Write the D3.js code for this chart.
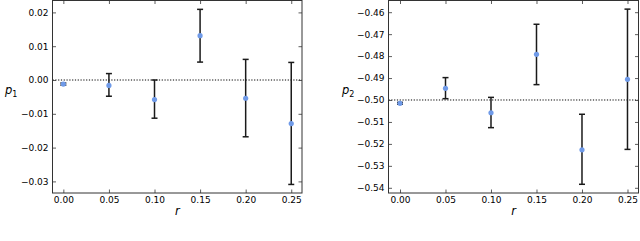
<!DOCTYPE html>
<html>
<head>
<meta charset="utf-8">
<script src="https://cdn.jsdelivr.net/npm/d3@7"></script>
<style>
	body { margin: 0; background: #fff; }
	svg { display: block; font-family: "DejaVu Sans", sans-serif; }
</style>
</head>
<body>
<svg id="chart" width="640" height="241"></svg>
<script>

// shared x values
let rValues = [0.00, 0.05, 0.10, 0.15, 0.20, 0.25];
let rTicks = [0.00, 0.05, 0.10, 0.15, 0.20, 0.25];

// panel (a): p1
let p1Mean = [-0.0012, -0.0016, -0.0058, 0.0131, -0.0054, -0.0129];
let p1Low = [-0.0015, -0.0048, -0.0113, 0.0053, -0.0168, -0.0309];
let p1High = [-0.0009, 0.0019, 0.0000, 0.0209, 0.0061, 0.0052];
let p1Ticks = [0.02, 0.01, 0.00, -0.01, -0.02, -0.03];
let p1Ref = 0.0;

// panel (b): p2
let p2Mean = [-0.5015, -0.4947, -0.5058, -0.4792, -0.5227, -0.4906];
let p2Low = [-0.5019, -0.4994, -0.5126, -0.4930, -0.5384, -0.5225];
let p2High = [-0.5011, -0.4898, -0.4988, -0.4655, -0.5065, -0.4586];
let p2Ticks = [-0.46, -0.47, -0.48, -0.49, -0.50, -0.51, -0.52, -0.53, -0.54];
let p2Ref = -0.5;

let svg = d3.select("#chart");

function panel(opts) {
	let x = d3.scaleLinear().domain(opts.xdom).range([opts.left, opts.right]);
	let y = d3.scaleLinear().domain(opts.ydom).range([opts.bottom, opts.top]);
	let g = svg.append("g");

	// reference line
	g.append("line")
		.attr("x1", opts.left).attr("x2", opts.right)
		.attr("y1", y(opts.ref)).attr("y2", y(opts.ref))
		.attr("stroke", "#000").attr("stroke-width", 1)
		.attr("stroke-dasharray", "1.2,1.6");

	// error bars
	let cap = 3;
	let data = rValues.map((r, i) => ({r: r, m: opts.mean[i], lo: opts.low[i], hi: opts.high[i]}));
	let eb = g.selectAll(".eb").data(data).enter().append("g").attr("class", "eb")
		.attr("stroke", "#1a1a1a").attr("stroke-width", 1.5);
	eb.append("line").attr("x1", d => x(d.r)).attr("x2", d => x(d.r))
		.attr("y1", d => y(d.lo)).attr("y2", d => y(d.hi));
	eb.append("line").attr("x1", d => x(d.r) - cap).attr("x2", d => x(d.r) + cap)
		.attr("y1", d => y(d.lo)).attr("y2", d => y(d.lo));
	eb.append("line").attr("x1", d => x(d.r) - cap).attr("x2", d => x(d.r) + cap)
		.attr("y1", d => y(d.hi)).attr("y2", d => y(d.hi));

	g.selectAll(".pt").data(data).enter().append("circle").attr("class", "pt")
		.attr("cx", d => x(d.r)).attr("cy", d => y(d.m)).attr("r", 2.6)
		.attr("fill", "#6f9ae8");

	// axes, ticks pointing inward
	let fmt = opts.fmt;
	let ax = [
		[d3.axisBottom(x).tickValues(rTicks).tickFormat(d3.format(".2f")), "translate(0," + opts.bottom + ")"],
		[d3.axisTop(x).tickValues(rTicks).tickFormat(""), "translate(0," + opts.top + ")"],
		[d3.axisLeft(y).tickValues(opts.yticks).tickFormat(fmt), "translate(" + opts.left + ",0)"],
		[d3.axisRight(y).tickValues(opts.yticks).tickFormat(""), "translate(" + opts.right + ",0)"]
	];
	for (let a of ax) {
		let ag = g.append("g").attr("transform", a[1])
			.call(a[0].tickSize(-3.5).tickPadding(4));
		ag.select(".domain").remove();
		ag.selectAll(".tick line").attr("stroke", "#333").attr("stroke-width", 0.8);
		ag.selectAll("text").attr("font-size", 9).attr("fill", "#000")
			.attr("font-family", "DejaVu Sans, sans-serif");
	}

	g.append("rect")
		.attr("x", opts.left).attr("y", opts.top)
		.attr("width", opts.right - opts.left).attr("height", opts.bottom - opts.top)
		.attr("fill", "none").attr("stroke", "#333").attr("stroke-width", 1);

	// labels
	let yl = g.append("text").attr("x", opts.ylx).attr("y", 94)
		.attr("font-size", 11.5).attr("font-style", "italic").attr("fill", "#000");
	yl.append("tspan").text("p");
	yl.append("tspan").attr("dy", 2.5).attr("font-size", 8).attr("font-style", "normal").text(opts.sub);

	g.append("text").attr("x", (opts.left + opts.right) / 2).attr("y", 215)
		.attr("text-anchor", "middle").attr("font-size", 11.5).attr("font-style", "italic")
		.text("r");
}

panel({
	left: 52.5, right: 302, top: 0.5, bottom: 193,
	xdom: [-0.0119, 0.2618], ydom: [-0.03343, 0.02352],
	mean: p1Mean, low: p1Low, high: p1High, yticks: p1Ticks, ref: p1Ref,
	fmt: d3.format(".2f"), ylx: 5, sub: "1"
});

panel({
	left: 388.5, right: 638.5, top: 0.5, bottom: 193,
	xdom: [-0.01264, 0.2621], ydom: [-0.54237, -0.45467],
	mean: p2Mean, low: p2Low, high: p2High, yticks: p2Ticks, ref: p2Ref,
	fmt: d3.format(".2f"), ylx: 342, sub: "2"
});

</script>
</body>
</html>
